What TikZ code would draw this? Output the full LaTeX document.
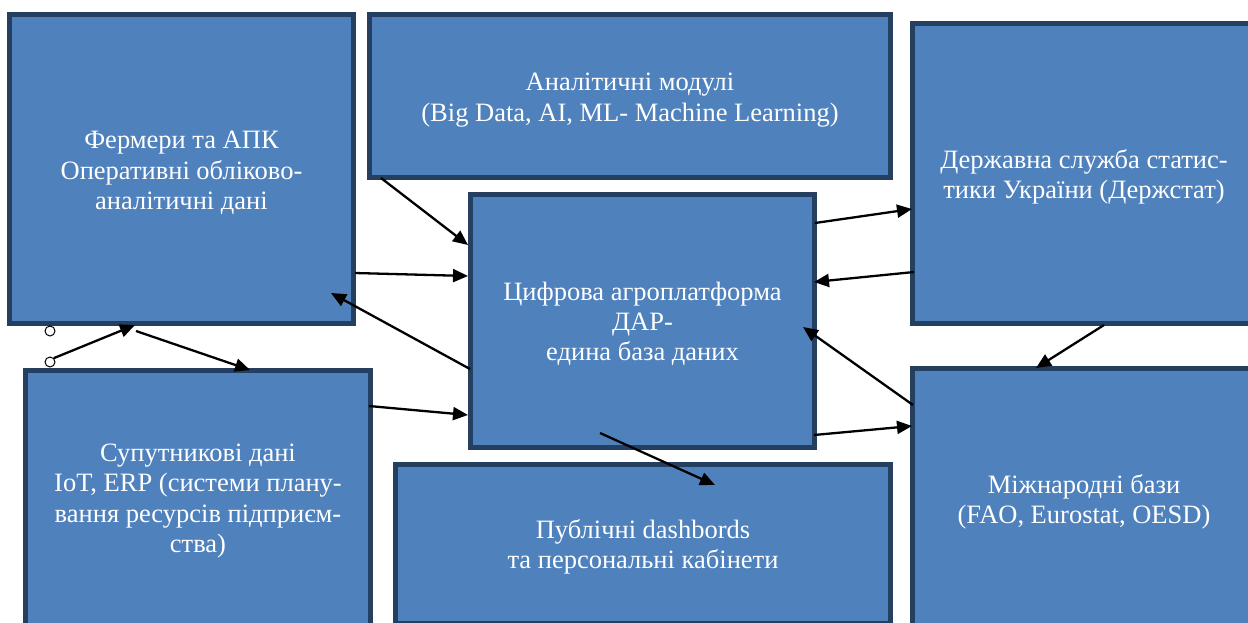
\documentclass[tikz,border=0pt]{standalone}
\usepackage{fontspec}
\setmainfont{Liberation Serif}
\usetikzlibrary{arrows.meta}
\definecolor{boxfill}{HTML}{4F81BD}
\definecolor{boxline}{HTML}{243F60}
\begin{document}
\begin{tikzpicture}[x=1pt,y=-1pt,
  box/.style={draw=boxline, fill=boxfill, line width=5pt, inner sep=0pt, outer sep=0pt},
  txt/.style={text=white, align=center, inner sep=0pt, font=\fontsize{26.5}{30.3}\selectfont},
  conn/.style={line width=2.3pt, -{Triangle[length=15pt,width=13pt]}},
  dot/.style={circle, draw=black, fill=white, line width=1pt, minimum size=10pt, inner sep=0pt}
]
\useasboundingbox (0,0) rectangle (1248,622);
\clip (0,0) rectangle (1248,622);
\fill[white] (0,0) rectangle (1248,622);

\node[box, minimum width=344pt, minimum height=309pt] (A) at (181.5,169) {};
\node[box, minimum width=521pt, minimum height=163pt] (B) at (630,96) {};
\node[box, minimum width=343pt, minimum height=300pt] (C) at (1084,173.5) {};
\node[box, minimum width=344pt, minimum height=253pt] (D) at (642.5,321) {};
\node[box, minimum width=345pt, minimum height=259pt] (E) at (198,500) {};
\node[box, minimum width=495pt, minimum height=159pt] (F) at (643,544) {};
\node[box, minimum width=343pt, minimum height=263pt] (G) at (1084,500) {};

\node[txt] (At) at ([yshift=-4pt]A.center) {Фермери та АПК\\Оперативні обліково-\\аналітичні дані};
\node[txt] (Bt) at ([yshift=-4pt]B.center) {Аналітичні модулі\\(Big Data, AI, ML- Machine Learning)};
\node[txt] (Ct) at ([yshift=-3pt]C.center) {Державна служба статис-\\тики України (Держстат)};
\node[txt] (Dt) at ([yshift=-3pt]D.center) {Цифрова агроплатформа\\ДАР-\\едина база даних};
\node[txt] (Et) at ([yshift=-1pt]E.center) {Супутникові дані\\IoT, ERP (системи плану-\\вання ресурсів підприєм-\\ства)};
\node[txt] (Ft) at ([yshift=-3pt]F.center) {Публічні dashbords\\та персональні кабінети};
\node[txt] (Gt) at ([yshift=-2pt]G.center) {Міжнародні бази\\(FAO, Eurostat, OESD)};

\node[dot] (o1) at (50,331) {};
\node[dot] (o2) at (50,362) {};

% connector end points on the boxes
\coordinate (b1) at (381,178);  \coordinate (d1) at (468,245);
\coordinate (a1) at (355,273);  \coordinate (d2) at (468,276);
\coordinate (d3) at (470,369);  \coordinate (a2) at (331,293);
\coordinate (e1) at (369,406);  \coordinate (d4) at (468,415);
\coordinate (d5) at (600,433);  \coordinate (f1) at (715,485);
\coordinate (d6) at (815,223);  \coordinate (c1) at (912,209);
\coordinate (c2) at (914,272);  \coordinate (d7) at (814,282);
\coordinate (g1) at (913,405);  \coordinate (d8) at (803,327);
\coordinate (d9) at (814,435);  \coordinate (g2) at (912,426);
\coordinate (c3) at (1104,325); \coordinate (g3) at (1036,368);
\coordinate (a3) at (135,325);
\coordinate (a4) at (136,331);  \coordinate (e2) at (250,370);

\draw[conn] (b1) -- (d1);
\draw[conn] (a1) -- (d2);
\draw[conn] (d3) -- (a2);
\draw[conn] (e1) -- (d4);
\draw[conn] (d5) -- (f1);
\draw[conn] (d6) -- (c1);
\draw[conn] (c2) -- (d7);
\draw[conn] (g1) -- (d8);
\draw[conn] (d9) -- (g2);
\draw[conn] (c3) -- (g3);
\draw[conn] (o2.north east) -- (a3);
\draw[conn] (a4) -- (e2);
\end{tikzpicture}
\end{document}
